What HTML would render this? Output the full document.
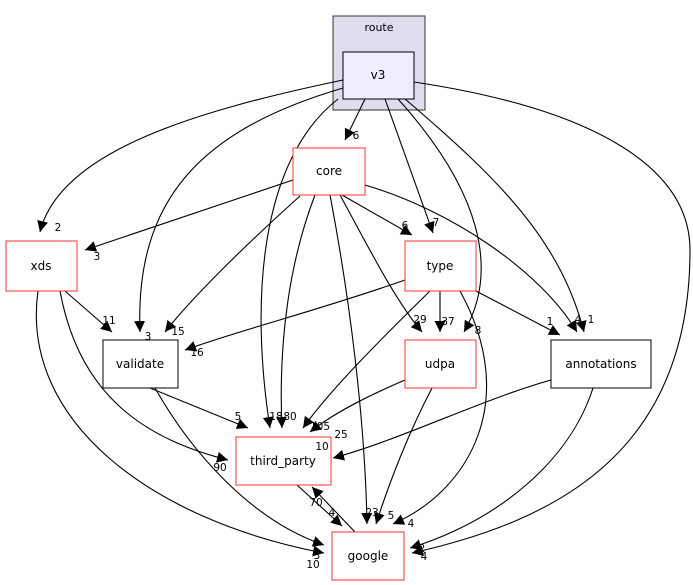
<!DOCTYPE html>
<html><head><meta charset="utf-8"><style>body{margin:0;background:#fff}svg{display:block}text{font-family:"DejaVu Sans","Liberation Sans",sans-serif}</style></head><body>
<svg width="693" height="585" viewBox="0 0 693 585" xmlns="http://www.w3.org/2000/svg">
<defs><marker id="a" viewBox="0 0 10 10" refX="10" refY="5" markerWidth="11" markerHeight="11" markerUnits="userSpaceOnUse" orient="auto"><path d="M0,0 L10,5 L0,10 z" fill="#000"/></marker></defs>
<rect x="333" y="16" width="92" height="94" fill="#ddddee" stroke="#333"/>
<text x="379" y="31" font-size="11" text-anchor="middle">route</text>
<g fill="none" stroke="#000" stroke-width="1.1" marker-end="url(#a)">
<path d="M365,99 L345,140"/>
<path d="M343,80 C200,110 60,150 40,232"/>
<path d="M343,88 C200,130 135,200 140,332"/>
<path d="M338,99 C260,160 250,300 270,428"/>
<path d="M385,99 L433,233"/>
<path d="M398,99 C480,190 500,270 464,332"/>
<path d="M405,99 C500,180 560,240 584,332"/>
<path d="M414,82 C600,110 690,170 690,250 C690,450 560,520 412,553"/>
<path d="M293,180 L85,250"/>
<path d="M300,196 C240,250 190,300 165,332"/>
<path d="M315,195 C290,260 278,340 282,428"/>
<path d="M330,195 C350,300 365,420 367,524"/>
<path d="M342,195 L412,235"/>
<path d="M340,195 C370,250 395,300 422,332"/>
<path d="M365,185 C450,210 540,270 577,332"/>
<path d="M405,280 C320,310 240,330 185,350"/>
<path d="M440,291 L440,332"/>
<path d="M476,291 L560,335"/>
<path d="M430,291 C380,340 330,390 303,428"/>
<path d="M460,291 C520,400 470,490 393,524"/>
<path d="M65,291 L112,332"/>
<path d="M60,291 C80,400 150,440 228,460"/>
<path d="M38,291 C20,420 150,520 324,553"/>
<path d="M150,388 L248,428"/>
<path d="M155,388 C190,450 250,520 324,545"/>
<path d="M405,380 C370,395 335,412 310,432"/>
<path d="M432,388 C410,430 390,480 376,524"/>
<path d="M551,380 C480,400 400,440 333,458"/>
<path d="M593,388 C570,460 500,520 410,548"/>
<path d="M297,485 L342,526"/>
<path d="M355,532 L312,487"/>
</g>
<g stroke-width="1">
<rect x="343" y="52" width="71" height="47" fill="#eeeeff" stroke="#000"/>
<rect x="293" y="148" width="72" height="47" fill="#fff" stroke="#ff3333"/>
<rect x="6" y="241" width="71" height="50" fill="#fff" stroke="#ff3333"/>
<rect x="405" y="241" width="71" height="50" fill="#fff" stroke="#ff3333"/>
<rect x="103" y="340" width="75" height="48" fill="#fff" stroke="#000"/>
<rect x="405" y="340" width="71" height="48" fill="#fff" stroke="#ff3333"/>
<rect x="551" y="340" width="100" height="48" fill="#fff" stroke="#000"/>
<rect x="236" y="437" width="95" height="48" fill="#fff" stroke="#ff3333"/>
<rect x="332" y="532" width="72" height="48" fill="#fff" stroke="#ff3333"/>
</g>
<g font-size="12" text-anchor="middle">
<text x="378" y="79">v3</text>
<text x="329" y="175">core</text>
<text x="41" y="270">xds</text>
<text x="440" y="270">type</text>
<text x="140" y="368">validate</text>
<text x="440" y="368">udpa</text>
<text x="601" y="368">annotations</text>
<text x="283" y="465">third_party</text>
<text x="368" y="560">google</text>
</g>
<g font-size="10.5" text-anchor="middle">
<text x="356" y="139">6</text>
<text x="58" y="231">2</text>
<text x="148" y="340">3</text>
<text x="276" y="420">18</text>
<text x="290" y="420">80</text>
<text x="436" y="226">7</text>
<text x="478" y="334">8</text>
<text x="591" y="323">1</text>
<text x="578" y="323">4</text>
<text x="422" y="552">2</text>
<text x="424" y="560">4</text>
<text x="97" y="260">3</text>
<text x="178" y="335">15</text>
<text x="372" y="516">23</text>
<text x="405" y="229">6</text>
<text x="420" y="323">29</text>
<text x="197" y="356">16</text>
<text x="448" y="325">37</text>
<text x="550" y="325">1</text>
<text x="320" y="430">105</text>
<text x="411" y="527">4</text>
<text x="109" y="324">11</text>
<text x="220" y="471">90</text>
<text x="313" y="568">10</text>
<text x="238" y="420">5</text>
<text x="317" y="559">3</text>
<text x="341" y="438">25</text>
<text x="391" y="519">5</text>
<text x="322" y="450">10</text>
<text x="332" y="516">4</text>
<text x="316" y="506">70</text>
</g>
</svg>
</body></html>
